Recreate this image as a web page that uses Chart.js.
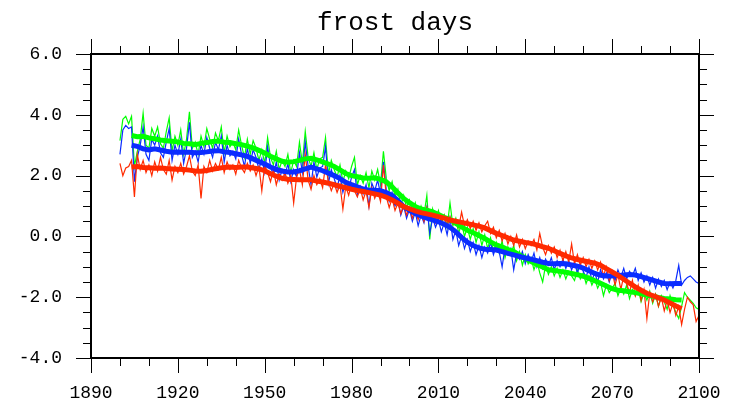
<!DOCTYPE html>
<html>
<head>
<meta charset="utf-8">
<title>frost days</title>
<script src="https://cdn.jsdelivr.net/npm/chart.js@4.4.1/dist/chart.umd.min.js"></script>
<style>
  html, body { margin: 0; padding: 0; background: #fff; }
  #wrap { width: 735px; height: 414px; }
</style>
</head>
<body>
<div id="wrap"><canvas id="chart" width="735" height="414"></canvas></div>
<script>
// --- DATI ---
const chartTitle = 'frost days';

// serie annuali 1900-2100
const annualFirstYear = 1900;
const greenAnnual = [
  3.15, 3.85, 3.95, 3.7, 3.95, 2.3, 2.8, 3.2, 4.05, 3.0,
  2.9, 3.55, 3.3, 3.6, 3.05, 2.9, 3.45, 3.9, 2.8, 3.3,
  3.0, 3.5, 2.7, 3.2, 4.1, 2.9, 3.1, 2.7, 3.3, 2.95,
  3.55, 3.2, 2.9, 3.4, 3.15, 3.6, 2.75, 3.3, 2.95, 3.1,
  2.85, 3.5, 3.0, 2.6, 3.2, 2.7, 3.15, 2.9, 2.5, 2.85,
  2.4, 3.25, 2.6, 2.35, 2.8, 2.2, 2.5, 2.3, 2.7, 2.1,
  2.5, 2.3, 3.1, 2.4, 3.45, 2.6, 2.3, 2.75, 2.2, 2.55,
  2.6, 3.25, 2.05, 2.5, 2.2, 1.95, 2.35, 1.8, 2.15, 1.9,
  2.3, 2.6, 1.7, 2.0, 1.75, 2.1, 1.6, 2.15, 1.85, 2.2,
  1.7, 2.8, 1.9, 1.5, 1.8, 1.3, 1.55, 1.0, 1.35, 0.95,
  1.2, 0.8, 1.1, 0.65, 1.0, 0.7, 1.35, -0.1, 0.9, 0.55,
  0.85, 0.4, 0.7, 0.3, 1.1, 0.35, 0.6, 0.1, 0.45, 0.0,
  0.3, -0.1, 0.25, -0.2, 0.15, -0.3, 0.05, -0.4, -0.05, -0.5,
  -0.2, -0.55, -0.15, -0.7, -0.35, -0.6, -0.3, -0.8, -0.5, -0.95,
  -0.6, -0.9, -0.7, -1.1, -0.8, -1.2, -1.5, -0.95, -1.25, -1.0,
  -1.3, -1.05, -1.35, -1.1, -1.4, -1.15, -1.3, -1.45, -1.1, -1.4,
  -1.2, -1.55, -1.3, -1.6, -1.4, -1.7, -1.5, -1.95, -1.6, -1.85,
  -1.7, -1.55, -1.95, -1.7, -1.9, -1.6, -2.05, -1.75, -1.95, -1.7,
  -2.15, -1.85, -2.1, -1.8, -2.2, -1.9, -2.3, -1.95, -2.15, -2.4,
  -1.95, -2.25, -2.5, -2.7, -2.3, -1.85, -2.0, -2.1, -2.2, -2.35,
  -2.4
];
const blueAnnual = [
  2.7, 3.5, 3.65, 3.55, 3.6, 1.8, 2.6, 3.0, 3.6, 2.7,
  2.5, 3.2, 3.0, 3.3, 2.75, 2.6, 3.1, 3.55, 2.5, 3.0,
  2.7, 3.2, 2.4, 2.9, 3.75, 2.6, 2.8, 2.45, 3.0, 2.7,
  3.25, 2.9, 2.6, 3.1, 2.85, 3.3, 2.45, 3.0, 2.65, 2.8,
  2.55, 3.2, 2.7, 2.3, 2.9, 2.4, 2.85, 2.6, 2.2, 2.55,
  2.1, 2.95, 2.3, 2.0, 2.45, 1.85, 2.2, 2.0, 2.4, 1.8,
  2.2, 1.95, 2.75, 2.1, 3.1, 2.3, 1.7, 2.45, 1.95, 2.25,
  2.3, 2.95, 1.75, 2.2, 1.9, 1.6, 2.0, 1.45, 1.8, 1.55,
  1.95, 2.2, 1.35, 1.65, 1.4, 1.7, 1.0, 1.75, 1.5, 1.85,
  1.4, 2.45, 1.5, 1.15, 1.45, 1.0, 1.2, 0.7, 1.0, 0.6,
  0.9, 0.5, 0.8, 0.35, 0.7, 0.45, 0.95, 0.1, 0.6, 0.3,
  0.55, 0.15, 0.45, 0.05, 0.6, -0.1, 0.2, -0.3, 0.0, -0.4,
  -0.1, -0.5, -0.2, -0.6, -0.3, -0.7, -0.35, -0.55, -0.2, -0.6,
  -0.3, -0.5, -1.0, -0.35, -0.6, -0.4, -1.1, -0.55, -0.75, -0.5,
  -0.9, -0.6, -0.85, -0.55, -1.0, -0.7, -1.05, -0.75, -0.95, -0.7,
  -1.1, -0.8, -1.0, -0.75, -1.05, -0.8, -1.1, -0.85, -1.2, -0.9,
  -1.15, -1.35, -1.0, -1.45, -1.2, -1.5, -1.1, -1.4, -1.2, -1.5,
  -1.2, -1.45, -1.1, -1.35, -1.05, -1.4, -1.15, -1.3, -1.05, -1.45,
  -1.2, -1.5, -1.3, -1.6, -1.35, -1.7, -1.4, -1.65, -1.45, -1.75,
  -1.5, -1.7, -1.45, -0.95, -1.6, -1.45, -1.35, -1.3, -1.4, -1.5,
  -1.55
];
const redAnnual = [
  2.4, 2.0, 2.25, 2.3, 2.5, 1.3, 2.7, 2.2, 2.5, 2.1,
  2.35, 2.0, 2.45, 2.15, 2.6, 2.2, 2.05, 2.5, 1.85, 2.3,
  2.1, 2.4, 2.05, 2.3, 2.65, 2.15, 2.0, 2.35, 1.25, 2.3,
  2.1, 2.5, 2.15, 2.4, 2.2, 2.6, 2.1, 2.45, 2.2, 2.35,
  2.05, 2.5, 2.25, 2.1, 2.4, 2.15, 2.35, 2.0, 2.3, 1.5,
  2.35, 2.1, 1.8, 2.2, 1.7, 2.05, 1.85, 2.1, 1.75, 2.0,
  1.1, 1.95, 2.2, 1.7, 2.7, 1.85, 1.55, 2.0, 1.7, 1.9,
  1.6, 2.35, 1.8, 1.5, 1.75, 1.45, 1.7, 0.9, 1.65, 1.35,
  1.75, 1.5, 1.3, 1.6, 1.2, 1.5, 0.95, 1.6, 1.25, 1.5,
  1.15, 2.35, 1.3, 0.95, 1.25, 0.85, 1.1, 0.75, 1.05, 0.7,
  0.95, 0.6, 0.9, 0.55, 0.85, 0.5, 0.95, 0.55, 0.8, 0.45,
  0.75, 0.5, 0.7, 0.35, 0.65, 0.4, 0.55, 0.3, 0.8, 0.35,
  0.55, 0.25, 0.5, 0.2, 0.45, 0.15, 0.35, 0.5, 0.1, 0.3,
  -0.05, 0.2, -0.15, 0.1, -0.25, 0.0, -0.3, 0.05, -0.35, -0.1,
  -0.4, -0.15, -0.3, -0.1, -0.45, 0.1, -0.35, -0.6, -0.3, -0.55,
  -0.35, -0.7, -0.45, -0.8, -0.5, -0.85, -0.25, -0.9, -0.6, -0.95,
  -0.7, -1.0, -0.75, -1.05, -0.8, -1.1, -0.85, -1.3, -1.0, -1.45,
  -1.15, -1.6, -1.25, -1.75, -1.3, -1.55, -1.85, -1.45, -1.95, -1.6,
  -2.1, -1.75, -2.7, -1.85, -2.15, -1.9, -2.3, -2.0, -2.45, -2.1,
  -2.5, -2.2, -2.6, -2.3, -2.9, -2.4, -2.0, -2.15, -2.25, -2.8,
  -2.6
];

// curve lisciate, un punto ogni 2 anni dal 1904 al 2094
const smoothFirstYear = 1904;
const smoothStep = 2;
const greenSmooth = [
  3.32, 3.28, 3.29, 3.24, 3.21, 3.17, 3.15, 3.13,
  3.11, 3.06, 3.05, 3.02, 3.06, 3.09, 3.12, 3.14,
  3.10, 3.09, 3.05, 3.02, 2.97, 2.91, 2.83, 2.74,
  2.64, 2.55, 2.47, 2.44, 2.46, 2.50, 2.55, 2.57,
  2.52, 2.45, 2.38, 2.30, 2.19, 2.07, 2.00, 1.96,
  1.92, 1.91, 1.93, 1.88, 1.79, 1.63, 1.43, 1.25,
  1.11, 0.98, 0.90, 0.86, 0.81, 0.72, 0.63, 0.55,
  0.43, 0.31, 0.20, 0.12, 0.03, -0.07, -0.18, -0.28,
  -0.35, -0.43, -0.50, -0.61, -0.72, -0.83, -0.92, -1.01,
  -1.10, -1.12, -1.15, -1.18, -1.22, -1.26, -1.31, -1.38,
  -1.46, -1.54, -1.63, -1.72, -1.77, -1.79, -1.82, -1.85,
  -1.89, -1.93, -1.97, -2.01, -2.04, -2.06, -2.08, -2.09
];
const blueSmooth = [
  3.00, 2.96, 2.88, 2.84, 2.88, 2.84, 2.80, 2.77,
  2.78, 2.77, 2.77, 2.75, 2.76, 2.78, 2.81, 2.82,
  2.78, 2.76, 2.72, 2.68, 2.63, 2.55, 2.46, 2.38,
  2.28, 2.20, 2.15, 2.12, 2.12, 2.16, 2.22, 2.28,
  2.22, 2.16, 2.08, 2.00, 1.90, 1.78, 1.70, 1.63,
  1.56, 1.52, 1.52, 1.50, 1.44, 1.35, 1.18, 0.98,
  0.86, 0.75, 0.67, 0.60, 0.54, 0.48, 0.40, 0.30,
  0.15, -0.03, -0.19, -0.30, -0.38, -0.42, -0.43, -0.45,
  -0.50, -0.56, -0.61, -0.66, -0.71, -0.75, -0.80, -0.85,
  -0.89, -0.90, -0.89, -0.90, -0.94, -0.98, -1.04, -1.13,
  -1.22, -1.28, -1.30, -1.30, -1.29, -1.27, -1.25, -1.27,
  -1.32, -1.38, -1.44, -1.50, -1.55, -1.56, -1.55, -1.55
];
const redSmooth = [
  2.28, 2.30, 2.27, 2.26, 2.24, 2.25, 2.23, 2.22,
  2.21, 2.20, 2.18, 2.15, 2.14, 2.17, 2.21, 2.24,
  2.27, 2.28, 2.27, 2.28, 2.28, 2.25, 2.22, 2.16,
  2.06, 1.98, 1.91, 1.88, 1.87, 1.86, 1.86, 1.86,
  1.82, 1.79, 1.75, 1.70, 1.65, 1.60, 1.55, 1.51,
  1.48, 1.44, 1.40, 1.36, 1.29, 1.20, 1.09, 0.98,
  0.91, 0.84, 0.78, 0.74, 0.70, 0.65, 0.60, 0.54,
  0.50, 0.46, 0.42, 0.38, 0.34, 0.28, 0.19, 0.10,
  0.03, -0.05, -0.12, -0.16, -0.20, -0.23, -0.28, -0.34,
  -0.39, -0.47, -0.56, -0.64, -0.71, -0.76, -0.80, -0.84,
  -0.88, -0.95, -1.06, -1.17, -1.28, -1.41, -1.54, -1.66,
  -1.77, -1.87, -1.95, -2.02, -2.09, -2.19, -2.29, -2.38
];

// assi
const xMin = 1890, xMax = 2100;
const xMajorTicks = [1890, 1920, 1950, 1980, 2010, 2040, 2070, 2100];
const xMinorStep = 10;
const yMin = -4, yMax = 6;
const yMajorTicks = [-4, -2, 0, 2, 4, 6];
const yTickLabels = ['-4.0', '-2.0', '0.0', '2.0', '4.0', '6.0'];
const yMinorStep = 0.5;

const colors = { green: '#00ff00', blue: '#0a2cff', red: '#ff2a00' };

function toPoints(first, step, values) {
    return values.map((v, i) => ({ x: first + i * step, y: v }));
}

// --- CORNICE, TACCHE E TESTI ---
const framePlugin = {
    id: 'ncFrame',
    afterDraw(chart) {
        const { ctx, chartArea: a, scales: { x, y } } = chart;
        ctx.save();
        ctx.strokeStyle = '#000';
        ctx.fillStyle = '#000';

        // tacche
        ctx.lineWidth = 1;
        ctx.beginPath();
        for (let v = xMin; v <= xMax; v += xMinorStep) {
            const px = Math.round(x.getPixelForValue(v)) + 0.5;
            const len = xMajorTicks.includes(v) ? 15 : 8;
            ctx.moveTo(px, a.bottom); ctx.lineTo(px, a.bottom + len);
            ctx.moveTo(px, a.top); ctx.lineTo(px, a.top - len);
        }
        for (let k = 0; k <= (yMax - yMin) / yMinorStep; k++) {
            const v = yMin + k * yMinorStep;
            const py = Math.round(y.getPixelForValue(v)) + 0.5;
            const len = yMajorTicks.includes(v) ? 15 : 8;
            ctx.moveTo(a.left, py); ctx.lineTo(a.left - len, py);
            ctx.moveTo(a.right, py); ctx.lineTo(a.right + len, py);
        }
        ctx.stroke();

        // cornice
        ctx.lineWidth = 2;
        ctx.strokeRect(a.left, a.top, a.right - a.left, a.bottom - a.top);

        // etichette
        ctx.font = '18px "Liberation Mono", monospace';
        ctx.textBaseline = 'middle';
        ctx.textAlign = 'center';
        xMajorTicks.forEach(v => {
            ctx.fillText(String(v), x.getPixelForValue(v), a.bottom + 35);
        });
        ctx.textAlign = 'right';
        yMajorTicks.forEach((v, i) => {
            ctx.fillText(yTickLabels[i], a.left - 29, y.getPixelForValue(v));
        });

        // titolo
        ctx.font = '26px "Liberation Mono", monospace';
        ctx.textAlign = 'center';
        ctx.fillText(chartTitle, (a.left + a.right) / 2, 23);
        ctx.restore();
    }
};

// --- GRAFICO ---
function thin(data, color) {
    return { data, borderColor: color, borderWidth: 1.2, pointRadius: 0, fill: false, tension: 0 };
}
function thick(data, color) {
    return { data, borderColor: color, borderWidth: 5, pointRadius: 0, fill: false, tension: 0 };
}

document.addEventListener('DOMContentLoaded', () => {
    const ctx = document.getElementById('chart').getContext('2d');
    new Chart(ctx, {
        type: 'line',
        data: {
            datasets: [
                // il primo dataset viene disegnato sopra
                thick(toPoints(smoothFirstYear, smoothStep, redSmooth), colors.red),
                thick(toPoints(smoothFirstYear, smoothStep, blueSmooth), colors.blue),
                thick(toPoints(smoothFirstYear, smoothStep, greenSmooth), colors.green),
                thin(toPoints(annualFirstYear, 1, redAnnual), colors.red),
                thin(toPoints(annualFirstYear, 1, blueAnnual), colors.blue),
                thin(toPoints(annualFirstYear, 1, greenAnnual), colors.green)
            ]
        },
        options: {
            responsive: false,
            maintainAspectRatio: false,
            animation: false,
            layout: { padding: { left: 91, right: 36, top: 54, bottom: 56 } },
            scales: {
                x: { type: 'linear', min: xMin, max: xMax, display: false },
                y: { type: 'linear', min: yMin, max: yMax, display: false }
            },
            plugins: {
                legend: { display: false },
                tooltip: { enabled: false },
                title: { display: false }
            }
        },
        plugins: [framePlugin]
    });
});
</script>
</body>
</html>
